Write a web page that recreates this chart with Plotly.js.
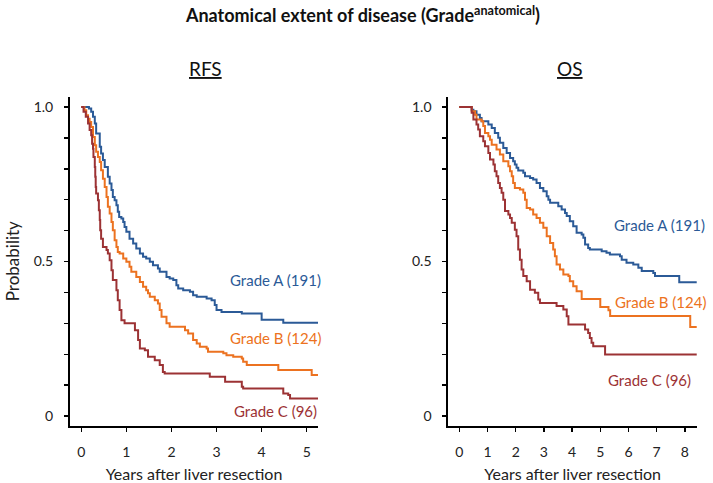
<!DOCTYPE html>
<html>
<head>
<meta charset="utf-8">
<script src="https://cdn.plot.ly/plotly-3.0.1.min.js"></script>
<style>html,body{margin:0;padding:0;background:#fff;}#chart{width:713px;height:483px;}</style>
</head>
<body>
<div id="chart"></div>
<script>
// ---- Data ----
// RFS panel: years after resection vs. probability
const rfsA_t = [0,0.17,0.22,0.26,0.30,0.33,0.41,0.44,0.48,0.52,0.59,0.63,0.67,0.70,0.74,0.78,0.81,0.84,0.89,0.93,0.96,1.00,1.07,1.15,1.22,1.30,1.37,1.44,1.52,1.59,1.70,1.74,1.89,1.96,2.04,2.11,2.15,2.26,2.41,2.48,2.56,2.78,2.89,2.96,3.00,3.11,3.56,4.00,4.48,5.25];
const rfsA_s = [1.0,0.995,0.984,0.968,0.946,0.914,0.871,0.849,0.828,0.806,0.774,0.752,0.731,0.709,0.698,0.682,0.661,0.644,0.639,0.628,0.612,0.596,0.574,0.558,0.542,0.526,0.515,0.510,0.499,0.488,0.477,0.467,0.450,0.445,0.440,0.423,0.413,0.407,0.402,0.391,0.386,0.380,0.375,0.359,0.343,0.337,0.332,0.312,0.302,0.302];

const rfsB_t = [0,0.07,0.11,0.15,0.185,0.22,0.26,0.30,0.33,0.37,0.41,0.44,0.48,0.52,0.56,0.59,0.63,0.67,0.70,0.74,0.78,0.81,0.85,0.93,1.00,1.07,1.11,1.22,1.30,1.37,1.44,1.48,1.52,1.63,1.70,1.74,1.78,1.89,1.96,2.30,2.37,2.48,2.56,2.63,2.78,2.81,3.15,3.22,3.37,3.56,3.59,3.67,4.37,5.11,5.25];
const rfsB_s = [1.0,0.989,0.973,0.962,0.951,0.935,0.903,0.876,0.855,0.838,0.822,0.795,0.768,0.741,0.709,0.677,0.655,0.628,0.601,0.569,0.547,0.531,0.526,0.510,0.499,0.483,0.467,0.450,0.434,0.418,0.407,0.397,0.386,0.375,0.364,0.343,0.321,0.300,0.289,0.278,0.267,0.246,0.235,0.224,0.219,0.208,0.203,0.197,0.192,0.186,0.176,0.165,0.149,0.133,0.133];

const rfsC_t = [0,0.05,0.10,0.15,0.185,0.22,0.24,0.26,0.27,0.30,0.31,0.32,0.33,0.37,0.39,0.41,0.42,0.44,0.48,0.56,0.59,0.63,0.67,0.70,0.78,0.81,0.85,0.89,0.96,1.19,1.26,1.30,1.41,1.48,1.63,1.74,1.81,1.85,2.85,3.19,3.56,3.59,4.48,4.59,4.63,5.25];
const rfsC_s = [1.0,0.984,0.968,0.946,0.925,0.908,0.881,0.865,0.838,0.806,0.774,0.741,0.720,0.698,0.666,0.634,0.601,0.574,0.547,0.537,0.526,0.504,0.472,0.440,0.407,0.375,0.343,0.310,0.300,0.278,0.246,0.219,0.213,0.192,0.181,0.165,0.143,0.138,0.127,0.111,0.095,0.089,0.073,0.068,0.057,0.057];

// OS panel
const osA_t = [0,0.44,0.50,0.61,0.73,0.79,1.03,1.15,1.26,1.38,1.44,1.56,1.68,1.80,1.91,1.97,2.03,2.09,2.27,2.33,2.51,2.62,2.74,2.86,2.98,3.10,3.16,3.22,3.51,3.63,3.75,3.81,3.92,4.04,4.16,4.34,4.40,4.46,4.57,4.63,5.05,5.22,5.34,5.70,5.76,5.93,6.17,6.35,6.47,6.88,6.94,7.80,8.42];
const osA_s = [1.0,0.991,0.986,0.975,0.964,0.954,0.943,0.932,0.916,0.900,0.884,0.867,0.851,0.835,0.824,0.814,0.803,0.794,0.787,0.776,0.770,0.765,0.754,0.738,0.727,0.711,0.700,0.690,0.679,0.668,0.657,0.647,0.630,0.614,0.593,0.587,0.577,0.555,0.544,0.539,0.533,0.528,0.523,0.517,0.506,0.496,0.490,0.480,0.469,0.463,0.453,0.433,0.433];

const osB_t = [0,0.44,0.56,0.61,0.79,0.85,0.91,1.03,1.09,1.15,1.32,1.44,1.56,1.74,1.80,1.86,1.91,1.97,2.15,2.27,2.33,2.39,2.51,2.62,2.74,2.86,2.98,3.10,3.22,3.33,3.39,3.45,3.57,3.69,3.87,3.92,4.04,4.16,4.34,5.00,5.29,5.35,8.19,8.42];
const osB_s = [1.0,0.986,0.975,0.959,0.954,0.938,0.916,0.905,0.894,0.878,0.862,0.846,0.824,0.808,0.792,0.776,0.754,0.738,0.733,0.722,0.700,0.673,0.668,0.652,0.641,0.625,0.609,0.582,0.560,0.539,0.517,0.490,0.474,0.458,0.453,0.436,0.420,0.404,0.379,0.353,0.342,0.324,0.288,0.288];

const osC_t = [0,0.44,0.50,0.61,0.67,0.73,0.85,0.91,1.03,1.09,1.21,1.26,1.32,1.38,1.44,1.50,1.56,1.62,1.74,1.80,1.86,1.97,2.03,2.09,2.15,2.21,2.27,2.39,2.51,2.68,2.80,2.86,3.45,3.69,3.81,3.87,4.46,4.57,4.63,4.69,4.75,5.17,8.42];
const osC_s = [1.0,0.981,0.959,0.943,0.927,0.905,0.889,0.873,0.851,0.830,0.814,0.792,0.776,0.754,0.738,0.722,0.700,0.663,0.652,0.641,0.625,0.603,0.582,0.539,0.506,0.474,0.453,0.436,0.409,0.399,0.377,0.366,0.356,0.345,0.323,0.296,0.280,0.269,0.253,0.237,0.226,0.199,0.199];

const groupLabels = ["Grade A (191)", "Grade B (124)", "Grade C (96)"];
const panelTitles = ["RFS", "OS"];
const yTickVals = [0, 0.5, 1.0];
const yTickText = ["0", "0.5", "1.0"];
const yMinorStep = 0.1;
const rfsXTicks = [0,1,2,3,4,5];
const osXTicks = [0,1,2,3,4,5,6,7,8];
// label anchor positions (data units)
const rfsLabelX = [4.31, 4.31, 4.31];
const rfsLabelY = [0.439, 0.252, 0.016];
const osLabelX = [7.09, 7.13, 6.76];
const osLabelY = [0.619, 0.369, 0.116];

// ---- Styling ----
const colors = ["#2b5a97", "#ec7220", "#9c3234"];
const FONT = "Lato, 'Open Sans', sans-serif";

function line(t, s, c, xa, ya) {
  return {x: t, y: s, type: "scatter", mode: "lines", line: {shape: "hv", color: c, width: 2},
          xaxis: xa, yaxis: ya, hoverinfo: "skip", showlegend: false};
}

const traces = [
  line(rfsA_t, rfsA_s, colors[0], "x", "y"),
  line(rfsB_t, rfsB_s, colors[1], "x", "y"),
  line(rfsC_t, rfsC_s, colors[2], "x", "y"),
  line(osA_t, osA_s, colors[0], "x2", "y2"),
  line(osB_t, osB_s, colors[1], "x2", "y2"),
  line(osC_t, osC_s, colors[2], "x2", "y2")
];

const xBase = {showline: true, linecolor: "#000", linewidth: 2, ticks: "outside", ticklen: 4, tickwidth: 1.5,
  tickcolor: "#000", showgrid: false, zeroline: false, tickmode: "array",
  tickfont: {family: FONT, size: 14, color: "#222"}, ticklabelstandoff: 8, fixedrange: true};
const yBase = {showline: true, linecolor: "#000", linewidth: 2, ticks: "outside", ticklen: 4, tickwidth: 1.5,
  tickcolor: "#000", showgrid: false, zeroline: false, tickmode: "array", tickvals: yTickVals, ticktext: yTickText,
  minor: {ticks: "outside", dtick: yMinorStep, tick0: 0, ticklen: 4, tickwidth: 1.5, tickcolor: "#000", showgrid: false},
  tickfont: {family: FONT, size: 14, color: "#222"}, ticklabelstandoff: 8, range: [-0.031, 1.033], fixedrange: true};

const xTitle = {text: "Years after liver resection", font: {family: FONT, size: 16, color: "#222"}, standoff: 10};

const annotations = [];
groupLabels.forEach((g, i) => {
  annotations.push({x: rfsLabelX[i], y: rfsLabelY[i], xref: "x", yref: "y", text: g, showarrow: false,
    xanchor: "center", yanchor: "middle", font: {family: FONT, size: 15, color: colors[i]}});
  annotations.push({x: osLabelX[i], y: osLabelY[i], xref: "x2", yref: "y2", text: g, showarrow: false,
    xanchor: "center", yanchor: "middle", font: {family: FONT, size: 15, color: colors[i]}});
});
annotations.push({x: 205/713, y: 1 - 68/483, xref: "paper", yref: "paper", text: "<u>" + panelTitles[0] + "</u>",
  showarrow: false, xanchor: "center", yanchor: "middle", font: {family: FONT, size: 19, color: "#111"}});
annotations.push({x: 569.5/713, y: 1 - 68/483, xref: "paper", yref: "paper", text: "<u>" + panelTitles[1] + "</u>",
  showarrow: false, xanchor: "center", yanchor: "middle", font: {family: FONT, size: 19, color: "#111"}});

const layout = {
  width: 713, height: 483,
  margin: {l: 0, r: 0, t: 0, b: 0},
  paper_bgcolor: "#fff", plot_bgcolor: "#fff",
  title: {text: "<b>Anatomical extent of disease (Grade<sup>anatomical</sup>)</b>", x: 363/713, xanchor: "center",
    y: 1 - 16/483, yanchor: "middle", yref: "container", xref: "container",
    font: {family: FONT, size: 18, color: "#111"}},
  xaxis: Object.assign({}, xBase, {domain: [70/713, 318/713], range: [-0.25, 5.25], tickvals: rfsXTicks,
    title: xTitle, anchor: "y"}),
  yaxis: Object.assign({}, yBase, {domain: [1 - 425.7/483, 1 - 96.7/483], anchor: "x",
    title: {text: "Probability", font: {family: FONT, size: 17, color: "#222"}, standoff: 10}}),
  xaxis2: Object.assign({}, xBase, {domain: [448.3/713, 697/713], range: [-0.39, 8.43], tickvals: osXTicks,
    title: xTitle, anchor: "y2"}),
  yaxis2: Object.assign({}, yBase, {domain: [1 - 425.7/483, 1 - 96.7/483], anchor: "x2"}),
  annotations: annotations
};

Plotly.newPlot("chart", traces, layout, {staticPlot: true, displayModeBar: false});
</script>
</body>
</html>
